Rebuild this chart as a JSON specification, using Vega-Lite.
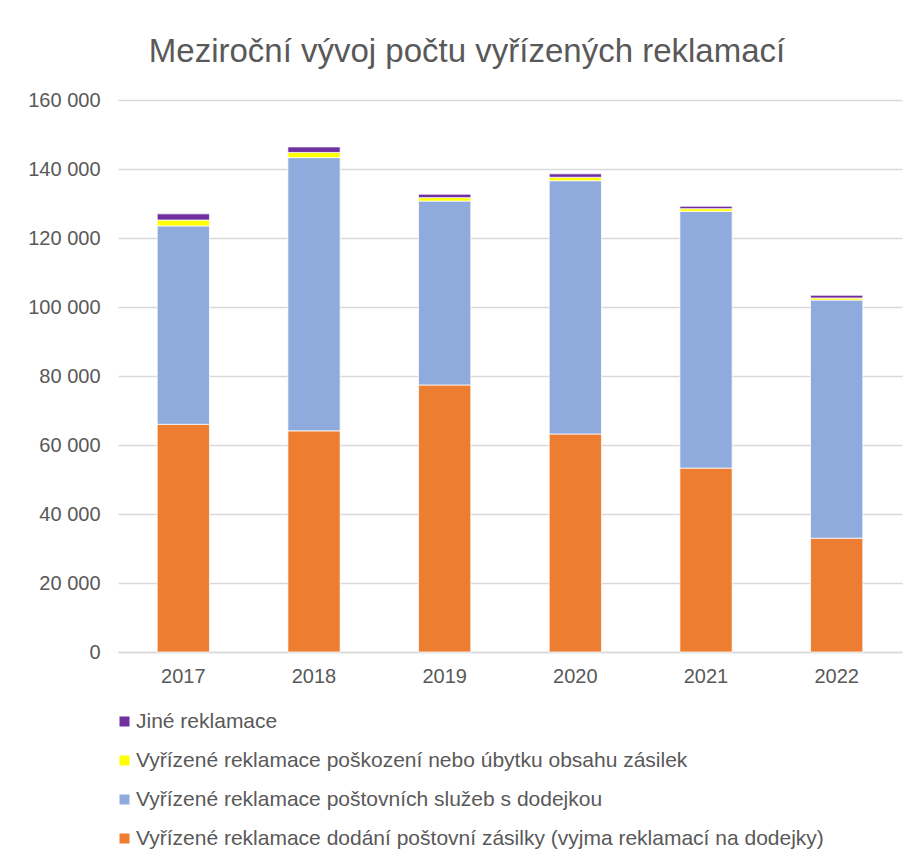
{
  "$schema": "https://vega.github.io/schema/vega-lite/v6.json",
  "autosize": "none",
  "width": 784,
  "height": 552,
  "padding": {"left": 118, "top": 100, "right": 11, "bottom": 204},
  "background": "white",
  "title": {
    "text": "Meziroční vývoj  počtu vyřízených reklamací",
    "font": "Liberation Sans",
    "fontSize": 33,
    "fontWeight": "normal",
    "color": "#595959",
    "anchor": "middle",
    "dx": -43,
    "offset": 21
  },
  "data": {
    "values": [
      {"rok": "2017", "typ": "Vyřízené reklamace dodání poštovní zásilky (vyjma reklamací na dodejky)", "poradi": 1, "pocet": 66000},
      {"rok": "2017", "typ": "Vyřízené reklamace poštovních služeb s dodejkou", "poradi": 2, "pocet": 57500},
      {"rok": "2017", "typ": "Vyřízené reklamace poškození nebo úbytku obsahu zásilek", "poradi": 3, "pocet": 1700},
      {"rok": "2017", "typ": "Jiné reklamace", "poradi": 4, "pocet": 1800},
      {"rok": "2018", "typ": "Vyřízené reklamace dodání poštovní zásilky (vyjma reklamací na dodejky)", "poradi": 1, "pocet": 64100},
      {"rok": "2018", "typ": "Vyřízené reklamace poštovních služeb s dodejkou", "poradi": 2, "pocet": 79200},
      {"rok": "2018", "typ": "Vyřízené reklamace poškození nebo úbytku obsahu zásilek", "poradi": 3, "pocet": 1500},
      {"rok": "2018", "typ": "Jiné reklamace", "poradi": 4, "pocet": 1600},
      {"rok": "2019", "typ": "Vyřízené reklamace dodání poštovní zásilky (vyjma reklamací na dodejky)", "poradi": 1, "pocet": 77400},
      {"rok": "2019", "typ": "Vyřízené reklamace poštovních služeb s dodejkou", "poradi": 2, "pocet": 53300},
      {"rok": "2019", "typ": "Vyřízené reklamace poškození nebo úbytku obsahu zásilek", "poradi": 3, "pocet": 1000},
      {"rok": "2019", "typ": "Jiné reklamace", "poradi": 4, "pocet": 1000},
      {"rok": "2020", "typ": "Vyřízené reklamace dodání poštovní zásilky (vyjma reklamací na dodejky)", "poradi": 1, "pocet": 63200},
      {"rok": "2020", "typ": "Vyřízené reklamace poštovních služeb s dodejkou", "poradi": 2, "pocet": 73400},
      {"rok": "2020", "typ": "Vyřízené reklamace poškození nebo úbytku obsahu zásilek", "poradi": 3, "pocet": 1000},
      {"rok": "2020", "typ": "Jiné reklamace", "poradi": 4, "pocet": 1000},
      {"rok": "2021", "typ": "Vyřízené reklamace dodání poštovní zásilky (vyjma reklamací na dodejky)", "poradi": 1, "pocet": 53300},
      {"rok": "2021", "typ": "Vyřízené reklamace poštovních služeb s dodejkou", "poradi": 2, "pocet": 74400},
      {"rok": "2021", "typ": "Vyřízené reklamace poškození nebo úbytku obsahu zásilek", "poradi": 3, "pocet": 800},
      {"rok": "2021", "typ": "Jiné reklamace", "poradi": 4, "pocet": 700},
      {"rok": "2022", "typ": "Vyřízené reklamace dodání poštovní zásilky (vyjma reklamací na dodejky)", "poradi": 1, "pocet": 33000},
      {"rok": "2022", "typ": "Vyřízené reklamace poštovních služeb s dodejkou", "poradi": 2, "pocet": 69000},
      {"rok": "2022", "typ": "Vyřízené reklamace poškození nebo úbytku obsahu zásilek", "poradi": 3, "pocet": 600},
      {"rok": "2022", "typ": "Jiné reklamace", "poradi": 4, "pocet": 800}
    ]
  },
  "mark": {"type": "bar", "stroke": "white", "strokeWidth": 0.75},
  "encoding": {
    "x": {
      "field": "rok",
      "type": "nominal",
      "scale": {"paddingInner": 0.6, "paddingOuter": 0.3},
      "axis": {
        "title": null,
        "labelAngle": 0,
        "labelFont": "Liberation Sans",
        "labelFontSize": 20,
        "labelColor": "#595959",
        "labelPadding": 14,
        "ticks": false,
        "domainColor": "#D9D9D9",
        "domainWidth": 1.5
      }
    },
    "y": {
      "field": "pocet",
      "type": "quantitative",
      "aggregate": "sum",
      "stack": "zero",
      "scale": {"domain": [0, 160000], "nice": false},
      "axis": {
        "title": null,
        "values": [0, 20000, 40000, 60000, 80000, 100000, 120000, 140000, 160000],
        "labelExpr": "replace(format(datum.value, ','), ',', ' ')",
        "labelFont": "Liberation Sans",
        "labelFontSize": 20,
        "labelColor": "#595959",
        "labelPadding": 18,
        "ticks": false,
        "domain": false,
        "gridColor": "#D9D9D9",
        "gridWidth": 1.5
      }
    },
    "color": {
      "field": "typ",
      "type": "nominal",
      "scale": {
        "domain": [
          "Jiné reklamace",
          "Vyřízené reklamace poškození nebo úbytku obsahu zásilek",
          "Vyřízené reklamace poštovních služeb s dodejkou",
          "Vyřízené reklamace dodání poštovní zásilky (vyjma reklamací na dodejky)"
        ],
        "range": ["#7030A0", "#FFFF00", "#8FAADC", "#ED7D31"]
      },
      "legend": {
        "title": null,
        "orient": "none",
        "legendX": -4,
        "legendY": 611,
        "direction": "vertical",
        "symbolType": "square",
        "symbolSize": 100,
        "symbolStrokeWidth": 0,
        "labelFont": "Liberation Sans",
        "labelFontSize": 21,
        "labelColor": "#595959",
        "labelLimit": 900,
        "labelOffset": 1,
        "rowPadding": 17
      }
    },
    "order": {"field": "poradi", "type": "quantitative", "sort": "ascending"}
  },
  "config": {
    "view": {"stroke": null}
  }
}
